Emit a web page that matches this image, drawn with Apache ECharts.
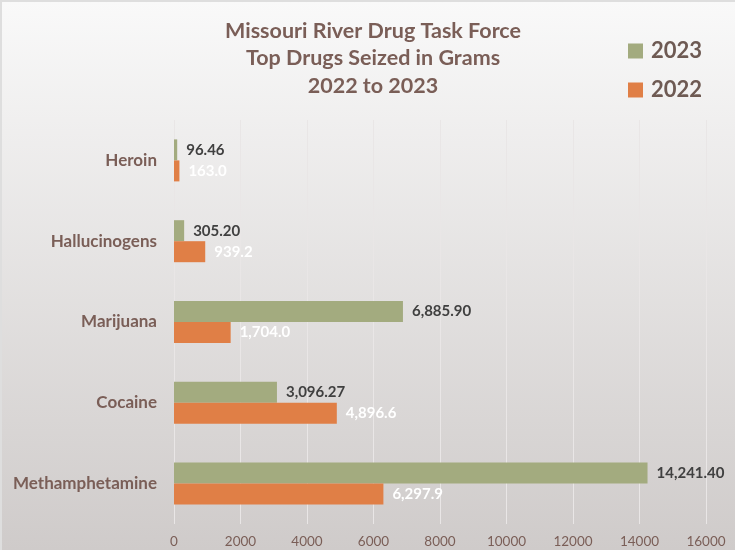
<!DOCTYPE html>
<html>
<head>
<meta charset="utf-8">
<script src="https://cdn.jsdelivr.net/npm/echarts@6/dist/echarts.min.js"></script>
<style>
html,body{margin:0;padding:0;}
#c{width:735px;height:550px;box-sizing:border-box;border-top:2px solid #dedede;border-left:2px solid #dedede;}
</style>
</head>
<body>
<div id="c"></div>
<script>
const categories = ["Heroin", "Hallucinogens", "Marijuana", "Cocaine", "Methamphetamine"];
const values2023 = [96.46, 305.20, 6885.90, 3096.27, 14241.40];
const values2022 = [163.0, 939.2, 1704.0, 4896.6, 6297.9];
const xTicks = { min: 0, max: 16000, interval: 2000 };
const titleLines = ["Missouri River Drug Task Force", "Top Drugs Seized in Grams", "2022 to 2023"];

function fmt(v, d) {
  const parts = v.toFixed(d).split(".");
  parts[0] = parts[0].replace(/\B(?=(\d{3})+(?!\d))/g, ",");
  return parts.join(".");
}

const chart = echarts.init(document.getElementById('c'));
const brown = '#7a5e57';
chart.setOption({
  backgroundColor: {
    type: 'linear', x: 0, y: 0, x2: 0, y2: 1,
    colorStops: [{offset: 0, color: '#f9f9f9'}, {offset: 1, color: '#cfcbca'}]
  },
  textStyle: { fontFamily: 'Lato' },
  title: {
    text: titleLines.join('\n'),
    left: 366, top: 10, textAlign: 'center',
    textStyle: { color: brown, fontSize: 21.5, fontWeight: 'bold', lineHeight: 27.5, fontFamily: 'Lato' }
  },
  legend: {
    data: ['2023', '2022'],
    orient: 'vertical',
    left: 621, top: 33,
    itemWidth: 15, itemHeight: 15, itemGap: 17,
    icon: 'rect',
    textStyle: { color: '#6e5a53', fontSize: 22, fontWeight: 'bold', fontFamily: 'Lato', padding: [0, 0, 0, 3] }
  },
  grid: { left: 172, right: 29, top: 118, bottom: 26, containLabel: false },
  xAxis: {
    type: 'value', min: xTicks.min, max: xTicks.max, interval: xTicks.interval,
    axisLine: { show: false }, axisTick: { show: false },
    axisLabel: { color: brown, fontSize: 13.5, margin: 11, formatter: v => String(v) },
    splitLine: { lineStyle: { color: '#e9e6e6', width: 1 } }
  },
  yAxis: {
    type: 'category', data: categories, inverse: true,
    axisLine: { show: false }, axisTick: { show: false },
    axisLabel: { color: brown, fontSize: 17, fontWeight: 'bold', margin: 17 }
  },
  series: [
    {
      name: '2023', type: 'bar', data: values2023, barWidth: 21, barGap: '0%',
      itemStyle: { color: '#a3ab7f' },
      label: { show: true, position: 'right', distance: 9, color: '#404040', fontWeight: 'bold', fontSize: 15,
        formatter: p => fmt(p.value, 2) }
    },
    {
      name: '2022', type: 'bar', data: values2022, barWidth: 21, barGap: '0%',
      itemStyle: { color: '#e07f46' },
      label: { show: true, position: 'right', distance: 9, color: '#ffffff', fontWeight: 'bold', fontSize: 15,
        formatter: p => fmt(p.value, 1) }
    }
  ]
});
</script>
</body>
</html>
